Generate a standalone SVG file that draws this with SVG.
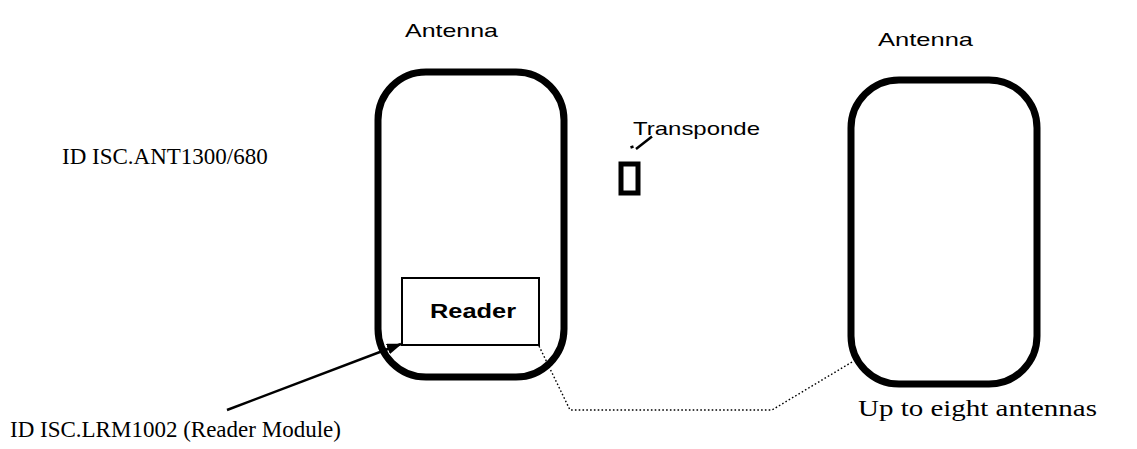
<svg xmlns="http://www.w3.org/2000/svg" width="1137" height="449" viewBox="0 0 1137 449">
<style>
.ant{fill:none;stroke:#000;stroke-width:7}
.sans{font-family:"Liberation Sans",Arial,sans-serif;fill:#000}
.serif{font-family:"Liberation Serif","Times New Roman",serif;font-size:23px;fill:#000}
.dot{fill:none;stroke:#000;stroke-width:1.4;stroke-dasharray:1.6 2.2}
</style>
<defs>
<marker id="ah" markerWidth="15" markerHeight="11" refX="14" refY="5.5" orient="auto" markerUnits="userSpaceOnUse">
<path d="M0,0 L15,5.5 L0,11 Z" fill="#000"/>
</marker>
</defs>
<rect width="1137" height="449" fill="#fff"/>
<g id="antenna-left">
<rect class="ant" x="378" y="72" width="186" height="305" rx="48"/>
<text class="sans" x="405" y="37" font-size="19" textLength="93" lengthAdjust="spacingAndGlyphs">Antenna</text>
</g>
<g id="reader">
<rect x="402" y="278" width="137" height="67" fill="#fff" stroke="#000" stroke-width="2"/>
<text class="sans" x="430" y="318" font-size="21" font-weight="bold" textLength="86" lengthAdjust="spacingAndGlyphs">Reader</text>
</g>
<g id="antenna-right">
<rect class="ant" x="851" y="80" width="186" height="304" rx="48"/>
<text class="sans" x="878" y="46" font-size="19" textLength="95" lengthAdjust="spacingAndGlyphs">Antenna</text>
</g>
<g id="transponder">
<rect x="621" y="164" width="17" height="29" fill="#fff" stroke="#000" stroke-width="5"/>
<path d="M630.5,147.5 l3,-1 M636,149 L652,136.5" fill="none" stroke="#000" stroke-width="2.5"/>
<text class="sans" x="633" y="135" font-size="19" textLength="127" lengthAdjust="spacingAndGlyphs">Transponde</text>
</g>
<g id="labels">
<text class="serif" x="62" y="164">ID ISC.ANT1300/680</text>
<text class="serif" x="10" y="437">ID ISC.LRM1002 (Reader Module)</text>
<text class="serif" x="858" y="416" font-size="24" textLength="239" lengthAdjust="spacingAndGlyphs">Up to eight antennas</text>
</g>
<g id="connectors">
<line x1="227" y1="410" x2="401" y2="344" stroke="#000" stroke-width="2.5" marker-end="url(#ah)"/>
<polyline class="dot" points="539,346 570,410 772,410 852,362"/>
</g>
</svg>
